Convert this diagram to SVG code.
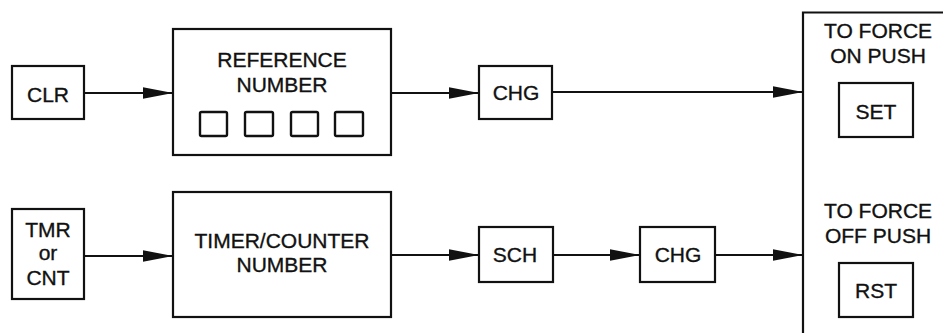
<svg xmlns="http://www.w3.org/2000/svg" width="943" height="333" viewBox="0 0 943 333">
<defs>
<style>
.box{fill:#fff;stroke:#111;stroke-width:2.2}
.sq{fill:none;stroke:#111;stroke-width:2.4}
.ln{fill:none;stroke:#111;stroke-width:2.2}
text{font-family:"Liberation Sans",Arial,sans-serif;font-size:21px;fill:#111;stroke:#111;stroke-width:0.35;text-anchor:middle}
</style>
<marker id="ah" markerUnits="userSpaceOnUse" markerWidth="30" markerHeight="12" refX="30" refY="6" orient="auto">
<path d="M0,0.3 L30,6 L0,11.7 z" fill="#111"/>
</marker>
</defs>
<rect width="943" height="333" fill="#fff"/>
<g id="connectors">
<line class="ln" x1="84" y1="93" x2="173" y2="93" marker-end="url(#ah)"/>
<line class="ln" x1="391" y1="93" x2="479" y2="93" marker-end="url(#ah)"/>
<line class="ln" x1="552" y1="92" x2="803" y2="92" marker-end="url(#ah)"/>
<line class="ln" x1="84" y1="256" x2="173" y2="256" marker-end="url(#ah)"/>
<line class="ln" x1="391" y1="255" x2="479" y2="255" marker-end="url(#ah)"/>
<line class="ln" x1="553" y1="255" x2="640" y2="255" marker-end="url(#ah)"/>
<line class="ln" x1="715" y1="255" x2="803" y2="255" marker-end="url(#ah)"/>
</g>
<g id="clr">
<rect class="box" x="12" y="66" width="72" height="53"/>
<text x="48" y="102">CLR</text>
</g>
<g id="reference-number">
<rect class="box" x="173" y="29" width="218" height="126"/>
<text x="282" y="67">REFERENCE</text>
<text x="282" y="92">NUMBER</text>
<rect class="sq" x="200" y="112" width="27" height="24" rx="1.5"/>
<rect class="sq" x="245" y="112" width="28" height="24" rx="1.5"/>
<rect class="sq" x="291" y="112" width="27" height="24" rx="1.5"/>
<rect class="sq" x="335" y="112" width="28" height="24" rx="1.5"/>
</g>
<g id="chg-top">
<rect class="box" x="479" y="66" width="73" height="53"/>
<text x="516" y="100">CHG</text>
</g>
<g id="tmr-cnt">
<rect class="box" x="12" y="209" width="72" height="90"/>
<text x="48" y="237">TMR</text>
<text x="48" y="260">or</text>
<text x="48" y="285">CNT</text>
</g>
<g id="timer-counter-number">
<rect class="box" x="173" y="192" width="218" height="125"/>
<text x="282" y="248">TIMER/COUNTER</text>
<text x="282" y="272">NUMBER</text>
</g>
<g id="sch">
<rect class="box" x="479" y="227" width="74" height="55"/>
<text x="515" y="262">SCH</text>
</g>
<g id="chg-bottom">
<rect class="box" x="640" y="227" width="75" height="55"/>
<text x="678" y="262">CHG</text>
</g>
<g id="force-panel">
<path class="ln" d="M803,333 V12.5 H943"/>
<text x="878" y="38">TO FORCE</text>
<text x="878" y="63">ON PUSH</text>
<rect class="box" x="839" y="83" width="74" height="54"/>
<text x="876" y="119">SET</text>
<text x="878" y="218">TO FORCE</text>
<text x="878" y="243">OFF PUSH</text>
<rect class="box" x="839" y="263" width="74" height="54"/>
<text x="876" y="298">RST</text>
</g>
</svg>
